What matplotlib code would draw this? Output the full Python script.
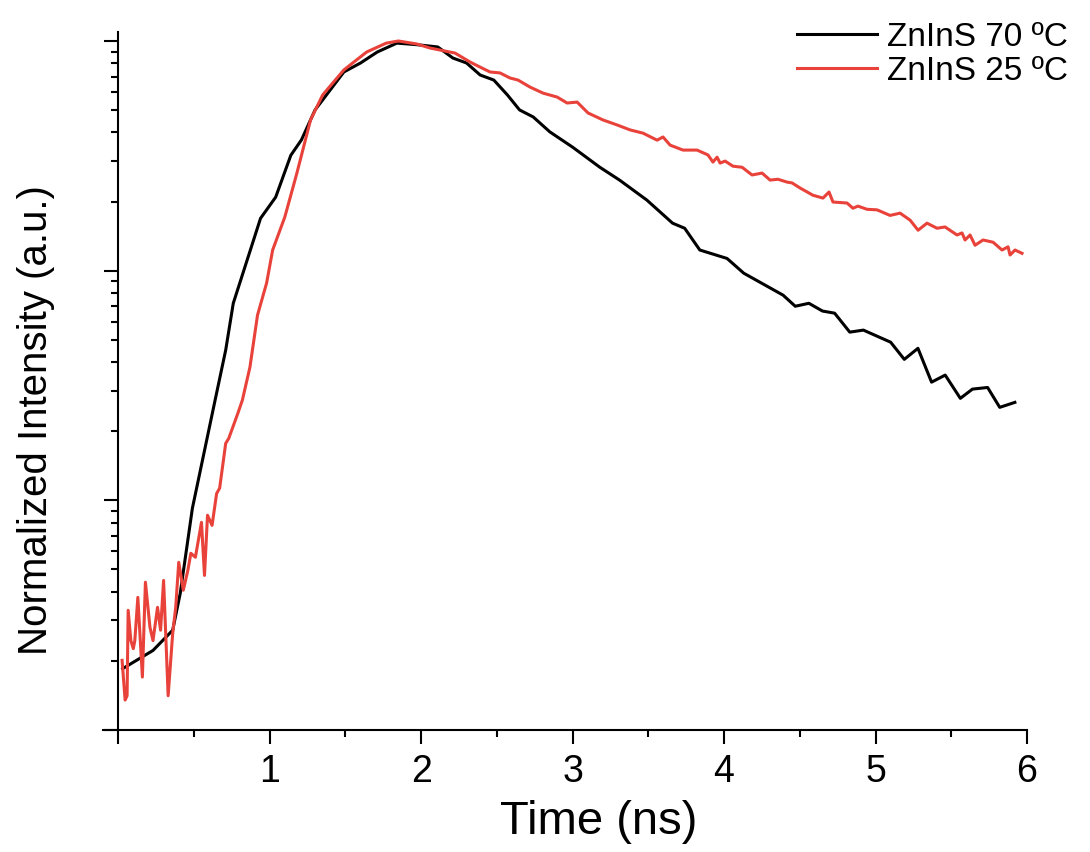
import matplotlib
matplotlib.use("Agg")
import matplotlib.pyplot as plt
from matplotlib.ticker import FixedLocator, MultipleLocator, LogLocator, NullFormatter

plt.rcParams["font.family"] = ["Liberation Sans", "DejaVu Sans"]

# ZnInS 70 ºC (black)
t_70 = [0.03, 0.23, 0.36, 0.41, 0.49, 0.64, 0.71, 0.76, 0.94, 1.04, 1.14, 1.21,
        1.30, 1.49, 1.60, 1.71, 1.84, 1.97, 2.11, 2.21, 2.30, 2.39, 2.48, 2.57,
        2.65, 2.74, 2.85, 3.00, 3.18, 3.31, 3.49, 3.66, 3.74, 3.84, 4.02, 4.13,
        4.39, 4.47, 4.56, 4.65, 4.73, 4.83, 4.92, 5.10, 5.19, 5.28, 5.37, 5.46,
        5.56, 5.64, 5.74, 5.82, 5.92]
i_70 = [0.00185, 0.00222, 0.00272, 0.00394, 0.00923, 0.0273, 0.0451, 0.0721,
        0.169, 0.209, 0.318, 0.371, 0.501, 0.733, 0.802, 0.895, 0.979, 0.964,
        0.942, 0.843, 0.802, 0.711, 0.676, 0.582, 0.501, 0.467, 0.402, 0.345,
        0.282, 0.248, 0.203, 0.161, 0.153, 0.123, 0.113, 0.0975, 0.0782, 0.0700,
        0.0721, 0.0667, 0.0653, 0.0540, 0.0551, 0.0488, 0.0411, 0.0459, 0.0327,
        0.0351, 0.0278, 0.0305, 0.0310, 0.0254, 0.0267]

# ZnInS 25 ºC (red)
t_25 = [0.026, 0.046, 0.059, 0.066, 0.084, 0.10, 0.11, 0.13, 0.16, 0.18, 0.21,
        0.23, 0.26, 0.28, 0.30, 0.33, 0.36, 0.38, 0.40, 0.43, 0.46, 0.48, 0.51,
        0.55, 0.57, 0.59, 0.62, 0.65, 0.67, 0.71, 0.73, 0.79, 0.82, 0.87, 0.92,
        0.98, 1.02, 1.10, 1.18, 1.27, 1.35, 1.49, 1.64, 1.77, 1.85, 1.97,
        2.059, 2.224, 2.323, 2.389, 2.455, 2.521, 2.587, 2.640, 2.719, 2.805,
        2.898, 2.964, 3.030, 3.102, 3.201, 3.294, 3.380, 3.465, 3.558, 3.597,
        3.644, 3.729, 3.822, 3.894, 3.927, 3.954, 3.974, 4.007, 4.059, 4.119,
        4.185, 4.251, 4.304, 4.356, 4.416, 4.449, 4.502, 4.587, 4.653, 4.693,
        4.719, 4.812, 4.851, 4.884, 4.944, 5.010, 5.096, 5.162, 5.228, 5.281,
        5.340, 5.406, 5.459, 5.538, 5.571, 5.591, 5.624, 5.657, 5.710, 5.776,
        5.835, 5.875, 5.888, 5.921, 5.967]
i_25 = [0.00201, 0.00135, 0.00141, 0.00332, 0.00245, 0.00226, 0.00245, 0.00378,
        0.00170, 0.00440, 0.00280, 0.00245, 0.00342, 0.00272, 0.00448, 0.00141,
        0.00263, 0.00342, 0.00537, 0.00406, 0.00495, 0.00588, 0.00565, 0.00802,
        0.00471, 0.00861, 0.00778, 0.0107, 0.0113, 0.0177, 0.0186, 0.0239,
        0.0273, 0.0380, 0.0640, 0.0883, 0.123, 0.171, 0.266, 0.453, 0.582,
        0.748, 0.895, 0.979, 1.0, 0.971,
        0.932, 0.886, 0.810, 0.770, 0.733, 0.726, 0.690, 0.676, 0.630, 0.593,
        0.570, 0.537, 0.542, 0.486, 0.453, 0.431, 0.410, 0.397, 0.370, 0.382,
        0.352, 0.335, 0.335, 0.319, 0.297, 0.312, 0.294, 0.300, 0.285, 0.282,
        0.261, 0.266, 0.248, 0.250, 0.243, 0.241, 0.229, 0.213, 0.207, 0.220,
        0.199, 0.197, 0.187, 0.191, 0.185, 0.184, 0.174, 0.178, 0.166, 0.150,
        0.161, 0.153, 0.155, 0.143, 0.146, 0.136, 0.143, 0.129, 0.136, 0.133,
        0.123, 0.127, 0.117, 0.123, 0.119]

x_ticks = [0, 1, 2, 3, 4, 5, 6]
x_labels = ["", "1", "2", "3", "4", "5", "6"]

fig = plt.figure(figsize=(10.9, 8.52), dpi=100)
ax = fig.add_axes([0.0945, 0.1432, 0.8477, 0.8192])

ax.plot(t_70, i_70, color="black", lw=2.2, label="ZnInS 70 ºC")
ax.plot(t_25, i_25, color="#E8423A", lw=2.2, label="ZnInS 25 ºC")

ax.set_yscale("log")
ax.set_xlim(-0.1, 6)
ax.set_ylim(0.001, 1.094)

ax.spines["top"].set_visible(False)
ax.spines["right"].set_visible(False)
ax.spines["left"].set_position(("data", 0))
for s in ("left", "bottom"):
    ax.spines[s].set_linewidth(1.5)

ax.xaxis.set_major_locator(FixedLocator(x_ticks))
ax.set_xticklabels(x_labels)
ax.xaxis.set_minor_locator(MultipleLocator(0.5))
ax.yaxis.set_major_locator(LogLocator(base=10))
ax.yaxis.set_minor_locator(LogLocator(base=10, subs=range(2, 10)))
ax.yaxis.set_major_formatter(NullFormatter())
ax.yaxis.set_minor_formatter(NullFormatter())

ax.tick_params(which="major", direction="out", length=10, width=1.5, labelsize=27, pad=7)
ax.tick_params(which="minor", direction="out", length=5, width=1.5)

ax.set_xlabel("Time (ns)", fontsize=34)
ax.xaxis.set_label_coords(0.536, -0.10)
ax.set_ylabel("Normalized Intensity (a.u.)", fontsize=29)
ax.yaxis.set_label_coords(-0.052, 0.444)

ax.legend(loc="upper right", bbox_to_anchor=(1.0, 1.0), bbox_transform=fig.transFigure,
          frameon=False, fontsize=24, handlelength=2.4, handletextpad=0.3,
          labelspacing=0.1, borderaxespad=0.25)

fig.savefig("out.png", dpi=100, facecolor="white")
